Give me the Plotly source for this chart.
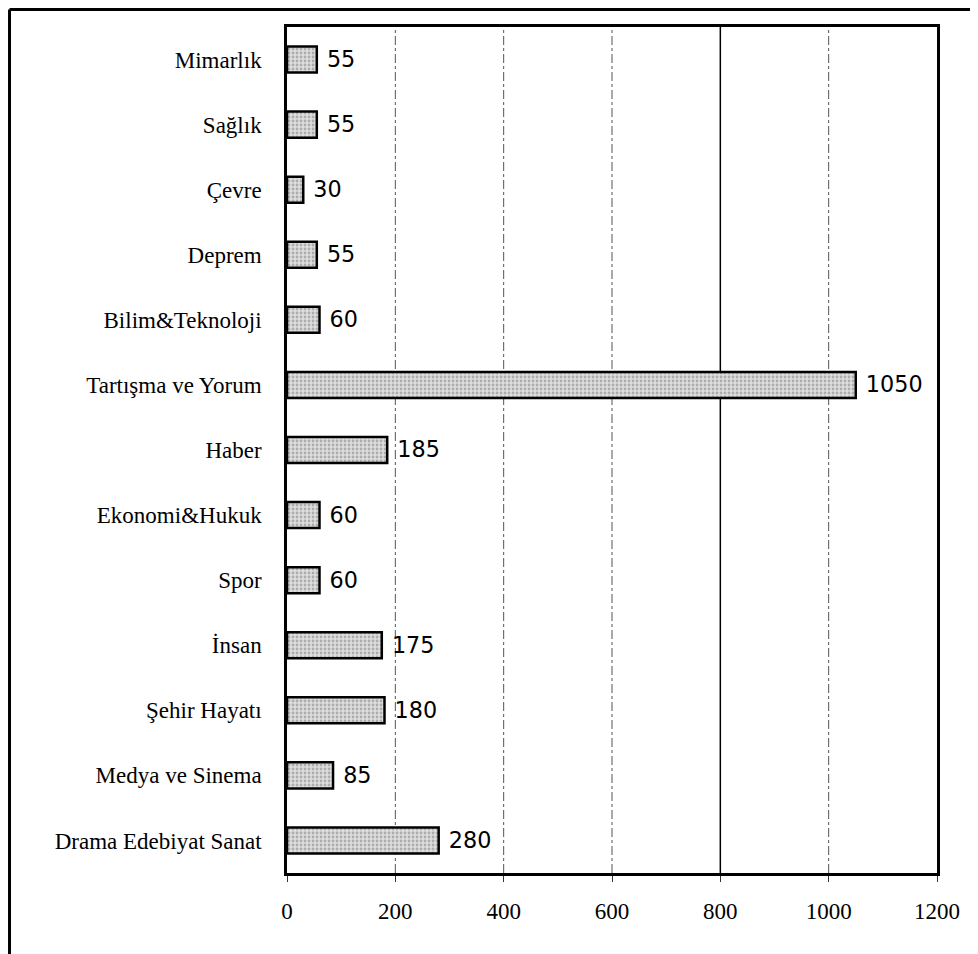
import plotly.graph_objects as go

categories = ["Drama Edebiyat Sanat", "Medya ve Sinema", "Şehir Hayatı", "İnsan", "Spor",
              "Ekonomi&Hukuk", "Haber", "Tartışma ve Yorum", "Bilim&Teknoloji", "Deprem",
              "Çevre", "Sağlık", "Mimarlık"]
values = [280, 85, 180, 175, 60, 60, 185, 1050, 60, 55, 30, 55, 55]
x_ticks = [0, 200, 400, 600, 800, 1000, 1200]
dash_grid = [200, 400, 600, 1000]
solid_grid = [800]

fig = go.Figure()
fig.add_trace(go.Bar(
    y=categories, x=values, orientation="h",
    text=["\u00a0" + str(v) for v in values], textposition="outside",
    textfont=dict(family="DejaVu Sans", size=24, color="black"),
    cliponaxis=False,
    width=0.4,
    marker=dict(color="#cfcfcf", line=dict(color="black", width=2.5),
                pattern=dict(shape=".", fgcolor="#7a7a7a", bgcolor="#dedede", size=4, solidity=0.4)),
))

shapes = []
for g in dash_grid:
    shapes.append(dict(type="line", xref="x", yref="paper", x0=g, x1=g, y0=0, y1=1,
                       line=dict(color="#555", width=1, dash="dashdot"), layer="below"))
for g in solid_grid:
    shapes.append(dict(type="line", xref="x", yref="paper", x0=g, x1=g, y0=0, y1=1,
                       line=dict(color="black", width=1.5), layer="below"))
# outer frame (scan border)
shapes.append(dict(type="line", xref="paper", yref="paper", x0=-0.4269, x1=1.08, y0=1.0207, y1=1.0207,
                   line=dict(color="black", width=3)))
shapes.append(dict(type="line", xref="paper", yref="paper", x0=-0.4269, x1=-0.4269, y0=1.0207, y1=-0.1,
                   line=dict(color="black", width=3)))

fig.update_layout(
    width=970, height=946,
    margin=dict(l=279, r=41, t=19, b=81),
    paper_bgcolor="white", plot_bgcolor="white",
    showlegend=False,
    bargap=0.6,
    shapes=shapes,
    font=dict(family="Liberation Serif", color="black"),
    xaxis=dict(range=[0, 1200], tickvals=x_ticks, ticktext=[str(t) for t in x_ticks],
               showgrid=False, zeroline=False, showline=True, linecolor="black", linewidth=2.5,
               mirror=True, ticks="outside", ticklen=6, tickcolor="#333",
               tickfont=dict(family="Liberation Serif", size=23), ticklabelstandoff=10),
    yaxis=dict(categoryorder="array", categoryarray=categories,
               showgrid=False, zeroline=False, showline=True, linecolor="black", linewidth=2.5,
               mirror=True, ticks="", tickfont=dict(family="Liberation Serif", size=23),
               ticklabelstandoff=18, range=[-0.5, 12.5]),
)

fig.write_html("out.html")
